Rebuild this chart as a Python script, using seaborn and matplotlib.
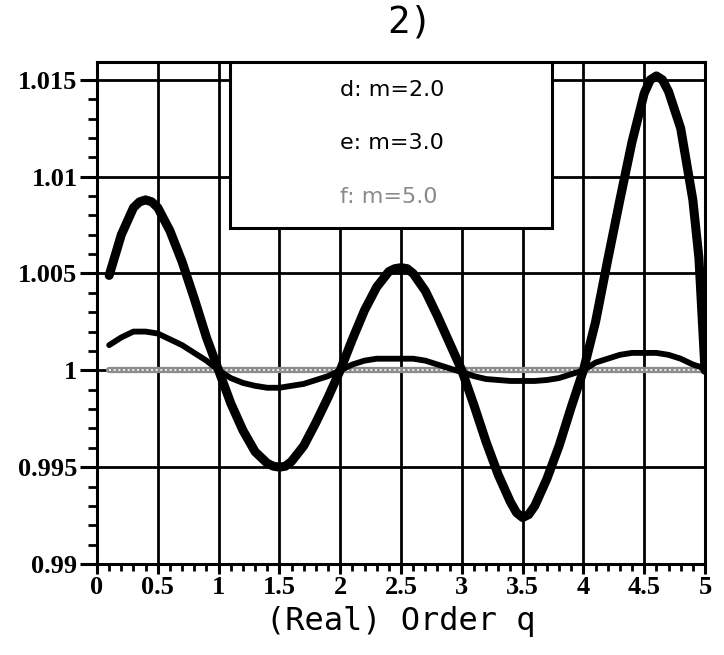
import matplotlib
matplotlib.use("Agg")
import matplotlib.pyplot as plt
from matplotlib.patches import Rectangle
from matplotlib.ticker import MultipleLocator, FuncFormatter
import pandas as pd
import seaborn as sns

q = [0.1, 0.2, 0.3, 0.4, 0.5, 0.6, 0.7, 0.8, 0.9, 1.0,
     1.1, 1.2, 1.3, 1.4, 1.5, 1.6, 1.7, 1.8, 1.9, 2.0,
     2.1, 2.2, 2.3, 2.4, 2.5, 2.6, 2.7, 2.8, 2.9, 3.0,
     3.1, 3.2, 3.3, 3.4, 3.5, 3.6, 3.7, 3.8, 3.9, 4.0,
     4.1, 4.2, 4.3, 4.4, 4.5, 4.6, 4.7, 4.8, 4.9, 5.0]

# d: m=2.0 (read a bit denser near the extremes)
q_d = [0.1, 0.2, 0.3, 0.35, 0.4, 0.45, 0.5, 0.6, 0.7, 0.8,
       0.9, 1.0, 1.1, 1.2, 1.3, 1.4, 1.45, 1.5, 1.55, 1.6,
       1.7, 1.8, 1.9, 2.0, 2.1, 2.2, 2.3, 2.4, 2.45, 2.5,
       2.55, 2.6, 2.7, 2.8, 2.9, 3.0, 3.1, 3.2, 3.3, 3.4,
       3.45, 3.5, 3.55, 3.6, 3.7, 3.8, 3.9, 4.0, 4.1, 4.2,
       4.3, 4.4, 4.5, 4.55, 4.6, 4.65, 4.7, 4.8, 4.9, 4.95,
       5.0]
d_vals = [1.0049, 1.0070, 1.0084, 1.0087, 1.0088, 1.0087, 1.0084, 1.0072, 1.0056, 1.0037,
          1.0017, 1.0000, 0.9983, 0.9969, 0.9958, 0.9952, 0.99505, 0.9950, 0.99505, 0.9953,
          0.9961, 0.9973, 0.9986, 1.0000, 1.0016, 1.0031, 1.0043, 1.0051, 1.00525, 1.0053,
          1.00525, 1.0050, 1.0041, 1.0028, 1.0014, 1.0000, 0.9982, 0.9963, 0.9946, 0.9932,
          0.99265, 0.9924, 0.99255, 0.9930, 0.9944, 0.9961, 0.9981, 1.0000, 1.0025, 1.0057,
          1.0088, 1.0118, 1.0143, 1.0150, 1.0152, 1.0150, 1.0144, 1.0125, 1.0088, 1.0058,
          1.0000]

# e: m=3.0
e_vals = [1.0013, 1.0017, 1.0020, 1.0020, 1.0019, 1.0016, 1.0013, 1.0009, 1.0005, 1.0000,
          0.9996, 0.99935, 0.9992, 0.9991, 0.9991, 0.9992, 0.9993, 0.9995, 0.9997, 1.0000,
          1.0003, 1.0005, 1.0006, 1.0006, 1.0006, 1.0006, 1.0005, 1.0003, 1.0001, 0.9999,
          0.9997, 0.99955, 0.9995, 0.99945, 0.99945, 0.99945, 0.9995, 0.9996, 0.9998, 1.0000,
          1.0004, 1.0006, 1.0008, 1.0009, 1.0009, 1.0009, 1.0008, 1.0006, 1.0003, 1.0001]

# f: m=5.0
f_vals = [1.0000] * 50

labels = ["d: m=2.0", "e: m=3.0", "f: m=5.0"]
x_ticks = [0, 0.5, 1, 1.5, 2, 2.5, 3, 3.5, 4, 4.5, 5]
y_ticks = [0.99, 0.995, 1.0, 1.005, 1.01, 1.015]

df_d = pd.DataFrame({"q": q_d, "v": d_vals})
df_e = pd.DataFrame({"q": q, "v": e_vals})
df_f = pd.DataFrame({"q": q, "v": f_vals})

sns.set_theme(style="white")
plt.rcParams["font.family"] = ["DejaVu Sans"]

fig = plt.figure(figsize=(7.24, 6.55), dpi=100)
ax = fig.add_axes([97 / 724, 1 - 564 / 655, 608 / 724, 502 / 655])

ax.set_xlim(0, 5)
ax.set_ylim(0.99, 1.01592)

# grid
ax.set_xticks(x_ticks)
ax.set_yticks(y_ticks)
ax.xaxis.set_minor_locator(MultipleLocator(0.1))
ax.yaxis.set_minor_locator(MultipleLocator(0.001))
ax.grid(True, which="major", color="black", linewidth=2.0)
ax.set_axisbelow(True)

sns.lineplot(data=df_f, x="q", y="v", ax=ax, color="#8c8c8c", linewidth=4.5, zorder=3)
sns.lineplot(data=df_f, x="q", y="v", ax=ax, color="white", linewidth=1.2, zorder=3.1)
ax.lines[-1].set_dashes([1.2, 1.6])
sns.lineplot(data=df_e, x="q", y="v", ax=ax, color="black", linewidth=4.2, zorder=4)
sns.lineplot(data=df_d, x="q", y="v", ax=ax, color="black", linewidth=6.5, zorder=5)
for ln in ax.lines[-2:]:
    ln.set_solid_joinstyle("round")
    ln.set_solid_capstyle("round")

for s in ax.spines.values():
    s.set_color("black")
    s.set_linewidth(2.2)

fmt = FuncFormatter(lambda v, p: ("%g" % v))
ax.xaxis.set_major_formatter(fmt)
ax.yaxis.set_major_formatter(fmt)

ax.tick_params(axis="y", which="major", direction="out", length=12, width=2.2,
               color="black", pad=2, left=True)
ax.tick_params(axis="y", which="minor", direction="out", length=6.5, width=2.0,
               color="black", left=True)
ax.tick_params(axis="x", which="major", direction="out", length=7, width=2.2,
               color="black", pad=2, bottom=True)
ax.tick_params(axis="x", which="minor", direction="out", length=5, width=2.0,
               color="black", bottom=True)
for lab in ax.get_xticklabels() + ax.get_yticklabels():
    lab.set_fontfamily("Liberation Serif")
    lab.set_fontweight("bold")
    lab.set_fontsize(19)
    lab.set_color("black")

ax.set_ylabel("")
ax.set_xlabel("(Real) Order q", fontfamily="DejaVu Sans Mono", fontsize=23,
              color="black", labelpad=5)

fig.text(410 / 724, 1 - 22 / 655, "2)", ha="center", va="center",
         fontfamily="DejaVu Sans Mono", fontsize=27, color="black")

# legend box
box = Rectangle((133 / 608, 1 - 166 / 502), 322 / 608, 166 / 502,
                transform=ax.transAxes, facecolor="white", edgecolor="black",
                linewidth=2.2, zorder=6)
ax.add_patch(box)
label_y = [0.944, 0.839, 0.731]
label_col = ["black", "black", "#8a8a8a"]
for lab, yy, cc in zip(labels, label_y, label_col):
    ax.text(243 / 608, yy, lab, transform=ax.transAxes, ha="left", va="center",
            fontsize=16, color=cc, zorder=7)

fig.savefig("out.png", dpi=100)
